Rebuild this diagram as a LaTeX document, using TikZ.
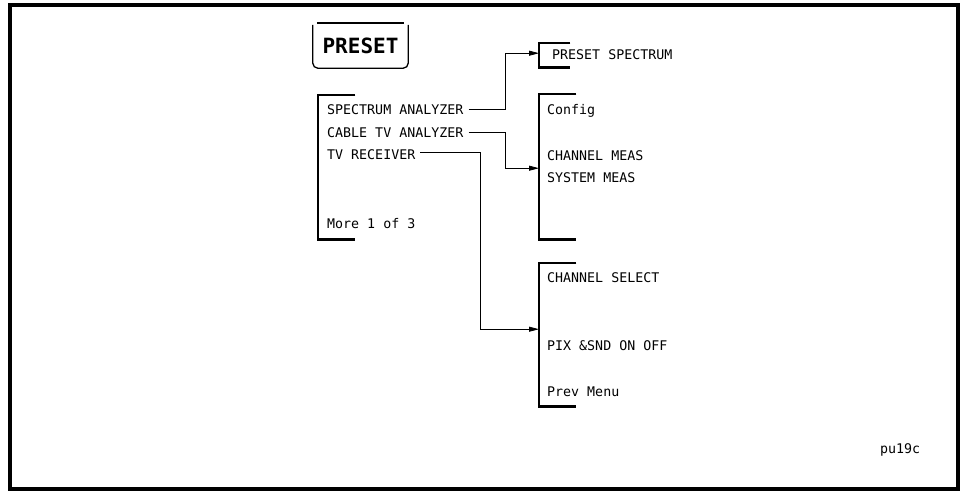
\documentclass[tikz,border=0pt]{standalone}
\usepackage{fontspec}
\setmonofont{DejaVu Sans Mono}
\usepackage{tikz}
\usetikzlibrary{arrows.meta, positioning}

\begin{document}
\begin{tikzpicture}[
    x=1pt, y=-1pt,
    item/.style={anchor=west, inner sep=0pt, text height=9.5pt, text depth=0pt, font=\ttfamily\fontsize{13.3}{15}\selectfont},
    menubox/.style={anchor=north west, inner sep=0pt, minimum width=37pt},
    bracket/.style={line width=2.2pt},
    arrow/.style={-{Triangle[length=10pt, width=5pt]}, line width=0.8pt, shorten <=5pt},
]
    \useasboundingbox (0,0) rectangle (966,491);
    \draw[line width=3.5pt] (10,5) rectangle (958,489);

    \node[inner sep=0pt, minimum width=95pt, minimum height=45pt, text height=15.5pt, text depth=0pt, font=\ttfamily\bfseries\fontsize{21}{24}\selectfont] (key) at (360.5,45.5) {PRESET};
    \draw[line width=1.3pt, rounded corners=5pt] ([yshift=-2pt]key.north west) -- (key.south west) -- (key.south east) -- ([yshift=-2pt]key.north east);
    \draw[line width=2pt] ([xshift=4pt]key.north west) -- ([xshift=-4pt]key.north east);

    % menu brackets
    \node[menubox, minimum height=144pt] (mode) at (318,95) {};
    \node[menubox, minimum width=31pt, minimum height=24pt] (ps) at (539,43) {};
    \node[menubox, minimum height=145pt] (cfg) at (539,94) {};
    \node[menubox, minimum height=143pt] (tvm) at (539,263) {};
    \draw[bracket] (mode.north east) -- (mode.north west) -- (mode.south west) -- (mode.south east);
    \draw[bracket] (ps.north east) -- (ps.north west) -- (ps.south west) -- (ps.south east);
    \draw[bracket] (cfg.north east) -- (cfg.north west) -- (cfg.south west) -- (cfg.south east);
    \draw[bracket] (tvm.north east) -- (tvm.north west) -- (tvm.south west) -- (tvm.south east);

    % softkey labels
    \node[item] (sa) at (327,109.5) {SPECTRUM ANALYZER};
    \node[item] (catv) at (327,132.5) {CABLE TV ANALYZER};
    \node[item] (tvr) at (327,154.5) {TV RECEIVER};
    \node[item] (more) at (327,224) {More 1 of 3};
    \node[item] (pspec) at (552,54.5) {PRESET SPECTRUM};
    \node[item] (config) at (547,110) {Config};
    \node[item] (chmeas) at (547,156) {CHANNEL MEAS};
    \node[item] (sysmeas) at (547,178) {SYSTEM MEAS};
    \node[item] (chsel) at (547,278) {CHANNEL SELECT};
    \node[item] (pix) at (547,346) {PIX \&SND ON OFF};
    \node[item] (prev) at (547,392) {Prev Menu};
    \node[item] (fig) at (880,449) {pu19c};

    \draw[arrow] (sa.east) -- ++(42,0) |- ([yshift=2pt]ps.west);
    \draw[arrow] (catv.east) -- ++(42,0) |- ([yshift=-1.5pt]cfg.west);
    \draw[arrow] ([yshift=2pt]tvr.east) -- ++(65,0) |- ([yshift=5.5pt]tvm.west);
\end{tikzpicture}
\end{document}
